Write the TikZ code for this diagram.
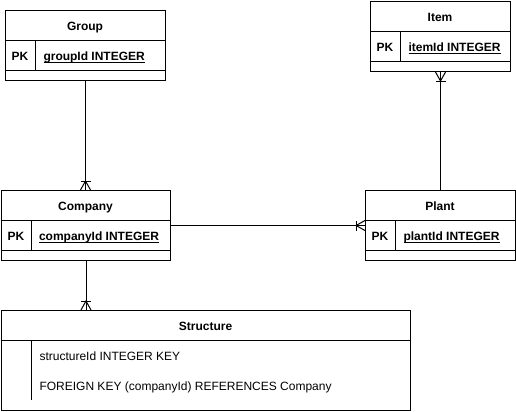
\documentclass[tikz,border=0pt]{standalone}
\usepackage{fontspec}
\setmainfont{Liberation Sans}
\newcommand\myul[1]{\setbox0\hbox{#1}\rlap{\rule[-1.6pt]{\wd0}{0.75pt}}\box0}
\begin{document}
\begin{tikzpicture}[x=0.75pt,y=-0.75pt,line width=0.75pt,
  box/.style={draw,rectangle,anchor=north west,inner sep=0pt,minimum height=52.5pt},
  txt/.style={text height=8.5pt,text depth=0pt,inner sep=0pt},
  ttl/.style={txt,font=\bfseries\fontsize{9}{11}\selectfont},
  pk/.style={txt,font=\bfseries\fontsize{9}{11}\selectfont},
  keyname/.style={txt,font=\bfseries\fontsize{9}{11}\selectfont,anchor=west},
  attr/.style={txt,font=\fontsize{9}{11}\selectfont,anchor=west},
  crow/.pic={\draw (-5,0) -- (0,-9) -- (5,0); \draw (-5,-9) -- (5,-9);}]
\useasboundingbox (0,0) rectangle (516,411);

% Group
\node[box,minimum width=120pt] (group) at (5,10) {};
\draw (5,40) -- (165,40) (5,70) -- (165,70) (35,40) -- (35,70);
\node[ttl] (groupT) at (85,25) {Group};
\node[pk] (groupPK) at (20,55) {PK};
\node[keyname] (groupK) at (43,55) {\myul{groupId INTEGER}};

% Item
\node[box,minimum width=105pt] (item) at (370,1) {};
\draw (370,31) -- (510,31) (370,61) -- (510,61) (400,31) -- (400,61);
\node[ttl] (itemT) at (440,16) {Item};
\node[pk] (itemPK) at (385,46) {PK};
\node[keyname] (itemK) at (408,46) {\myul{itemId INTEGER}};

% Company
\node[box,minimum width=126.75pt] (company) at (1,190) {};
\draw (1,220) -- (170,220) (1,250) -- (170,250) (31,220) -- (31,250);
\node[ttl] (companyT) at (85.5,205) {Company};
\node[pk] (companyPK) at (16,235) {PK};
\node[keyname] (companyK) at (38.5,235) {\myul{companyId INTEGER}};

% Plant
\node[box,minimum width=112.5pt] (plant) at (365,190) {};
\draw (365,220) -- (515,220) (365,250) -- (515,250) (395,220) -- (395,250);
\node[ttl] (plantT) at (440,205) {Plant};
\node[pk] (plantPK) at (380,235) {PK};
\node[keyname] (plantK) at (403,235) {\myul{plantId INTEGER}};

% Structure
\node[box,minimum width=306.75pt,minimum height=75pt] (structure) at (1,310) {};
\draw (1,340) -- (410,340) (31,340) -- (31,400);
\node[ttl] (structureT) at (205.5,325) {Structure};
\node[attr] (structureA) at (39,355) {structureId INTEGER KEY};
\node[attr] (structureB) at (39,385) {FOREIGN KEY (companyId) REFERENCES Company};

% Connectors
\draw (group.south) -- (group.south |- company.north);
\pic at (group.south |- company.north) {crow};

\draw (item.south) -- (plant.north);
\pic[rotate=180] at (item.south) {crow};

\draw (company.east) -- (plant.west);
\pic[rotate=90] at (plant.west) {crow};

\draw (company.south) -- (company.south |- structure.north);
\pic at (company.south |- structure.north) {crow};
\end{tikzpicture}
\end{document}
